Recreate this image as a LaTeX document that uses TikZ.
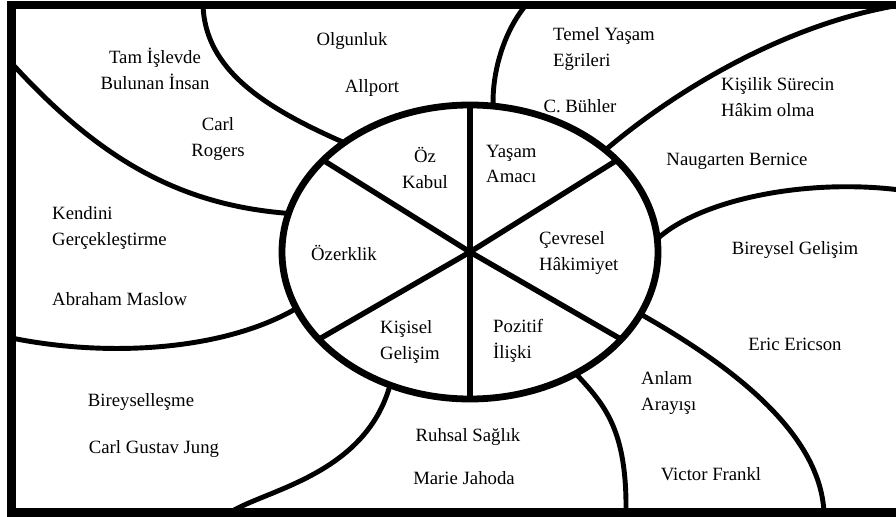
\documentclass[tikz,border=0pt]{standalone}
\usepackage{fontspec}
\setmainfont{Liberation Serif}
\usetikzlibrary{shapes.geometric}

\begin{document}
\begin{tikzpicture}[
    x=0.03cm, y=-0.03cm,
    font=\fontsize{16}{22}\selectfont,
    cerceve/.style ={draw=black, line width=7pt},
    govde/.style   ={draw=black, ellipse, line width=5.8pt, inner sep=0pt, outer sep=0pt,
                     minimum width=11.28cm, minimum height=8.82cm},
    kol/.style     ={draw=black, line width=4.6pt},
    sinir/.style   ={draw=black, line width=4.2pt},
    orta/.style    ={inner sep=0pt, align=center},
    sol/.style     ={inner sep=0pt, align=left, anchor=west}
  ]
  \useasboundingbox (0,0) rectangle (896,517);

  % --- cerceve ve uc noktalar ---------------------------------------------
  \draw[cerceve] (11.5,5) rectangle (905,512.5);
  \coordinate (k1) at (203,5);
  \coordinate (k2) at (11.5,63);
  \coordinate (k3) at (11.5,338);
  \coordinate (k4) at (230,512.5);
  \coordinate (k5) at (626,512.5);
  \coordinate (k6) at (824,512.5);
  \coordinate (k7) at (900,190);
  \coordinate (k8) at (900,5);
  \coordinate (k9) at (526,5);

  % --- merkez elips ve kollar ----------------------------------------------
  \node[govde] (hub) at (470,252) {};
  \foreach \a in {90,270,148,32,210,-30} \draw[kol] (hub.center) -- (hub.\a);

  % --- disa giden sinirlar -------------------------------------------------
  \draw[sinir] (hub.139) .. controls (265,108) and (205,70) .. (k1);
  \draw[sinir] (hub.168) .. controls (180,205) and (100,160) .. (k2);
  \draw[sinir] (hub.198) .. controls (225,350) and (110,358) .. (k3);
  \draw[sinir] (hub.239) .. controls (365,475) and (265,490) .. (k4);
  \draw[sinir] (hub.311) .. controls (605,405) and (627,430) .. (k5);
  \draw[sinir] (hub.-20) .. controls (725,362) and (820,430) .. (k6);
  \draw[sinir] (hub.4.5) .. controls (700,200) and (805,178) .. (k7);
  \draw[sinir] (hub.37) .. controls (670,95) and (780,25) .. (k8);
  \draw[sinir] (hub.81) .. controls (492,70) and (505,30) .. (k9);

  % --- elips ici -----------------------------------------------------------
  \node[orta] (ozk) at (425,168) {Öz\\Kabul};
  \node[sol]  (yam) at (486,164) {Yaşam\\Amacı};
  \node[sol]  (cev) at (539,253) {Çevresel\\Hâkimiyet};
  \node[sol]  (poz) at (493,341) {Pozitif\\İlişki};
  \node[sol]  (kis) at (380,342) {Kişisel\\Gelişim};
  \node[orta] (oze) at (344,253) {Özerklik};

  % --- dis bolgeler --------------------------------------------------------
  \node[orta] (tam) at (155,69)  {Tam İşlevde\\Bulunan İnsan};
  \node[orta] (rog) at (218,139) {Carl\\Rogers};
  \node[orta] (olg) at (352,41)  {Olgunluk};
  \node[orta] (all) at (372,88)  {Allport};
  \node[sol]  (tem) at (553,49)  {Temel Yaşam\\Eğrileri};
  \node[orta] (buh) at (580,106) {C. Bühler};
  \node[sol]  (ksu) at (721,97)  {Kişilik Sürecin\\Hâkim olma};
  \node[orta] (nau) at (737,161) {Naugarten Bernice};
  \node[orta] (bge) at (795,250) {Bireysel Gelişim};
  \node[orta] (eri) at (795,344) {Eric Ericson};
  \node[sol]  (anl) at (641,393) {Anlam\\Arayışı};
  \node[orta] (fra) at (711,474) {Victor Frankl};
  \node[orta] (ruh) at (468,437) {Ruhsal Sağlık};
  \node[orta] (jah) at (464,478) {Marie Jahoda};
  \node[orta] (bir) at (141,402) {Bireyselleşme};
  \node[orta] (jun) at (154,449) {Carl Gustav Jung};
  \node[sol]  (ken) at (52,228)  {Kendini\\Gerçekleştirme};
  \node[sol]  (mas) at (52,299)  {Abraham Maslow};

\end{tikzpicture}
\end{document}
